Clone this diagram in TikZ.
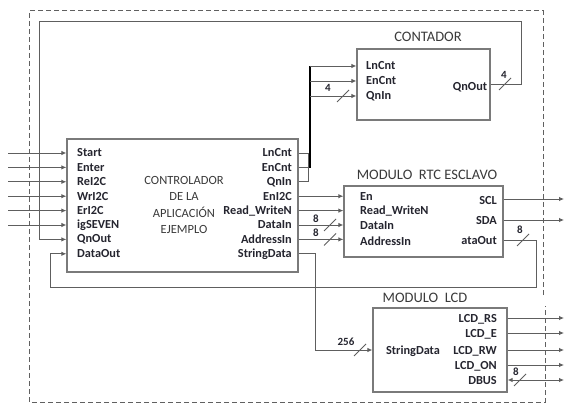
\documentclass[tikz,border=0pt]{standalone}
\usepackage{fontspec}
\setmainfont{Carlito}
\usetikzlibrary{arrows.meta}
\definecolor{boxgray}{HTML}{7A7A7A}
\definecolor{wiregray}{HTML}{5E5E5E}
\definecolor{txt}{HTML}{25252F}
\definecolor{ttl}{HTML}{3A3A3A}
\tikzset{
  blk/.style={draw=boxgray,line width=1.3pt,fill=white,inner sep=0pt},
  pinlbl/.style={font=\fontsize{12.3}{13}\selectfont\bfseries,text=txt,inner sep=0pt},
  ttlbl/.style={font=\fontsize{14.5}{16}\selectfont,text=ttl,inner sep=0pt},
  ctrtxt/.style={font=\fontsize{12.5}{15}\selectfont,text=ttl,inner sep=0pt,align=center},
  wire/.style={draw=wiregray,line width=0.9pt},
  arr/.style={wire,-{Latex[length=5pt,width=4.5pt]}},
  barr/.style={wire,{Latex[length=5pt,width=4.5pt]}-{Latex[length=5pt,width=4.5pt]}},
  bus/.style={draw=black,line width=2pt},
  slash/.style={draw=wiregray,line width=0.9pt},
  numlbl/.style={font=\fontsize{11}{12}\selectfont\bfseries,text=txt,inner sep=0pt},
  outer/.style={draw=gray!75!black,line width=1pt,dash pattern=on 5pt off 3pt}
}
\begin{document}
\begin{tikzpicture}[x=1pt,y=-1pt]
\useasboundingbox (0,0) rectangle (564,403);
% outer dashed boundary
\draw[outer] (543,295) -- (543,11) -- (29,11) -- (29,402) -- (545,402) -- (545,306);

% boxes
\node[blk,minimum width=231pt,minimum height=133pt] (ctrl) at (182.5,205.5) {};
\node[blk,minimum width=133pt,minimum height=71pt] (cnt) at (423.5,84.5) {};
\node[blk,minimum width=159pt,minimum height=71pt] (rtc) at (423.5,221.5) {};
\node[blk,minimum width=134pt,minimum height=84pt] (lcd) at (440,350) {};

% titles
\node[ttlbl] (tcnt) at (428,37) {CONTADOR};
\node[ttlbl] (trtc) at (427,175) {MODULO\ \ RTC ESCLAVO};
\node[ttlbl] (tlcd) at (425,298) {MODULO\ \ LCD};
\node[ctrtxt] (ctxt) at (184,205) {CONTROLADOR\\[1.2pt]DE LA\\[1.2pt]APLICACIÓN\\[1.2pt]EJEMPLO};

% controller left pins
\foreach \n/\t/\y in {cs/Start/153,ce/Enter/167.4,cr/ReI2C/181.8,cw/WrI2C/196.2,cer/ErI2C/210.6,cig/igSEVEN/225,cq/QnOut/239.4,cd/DataOut/253.8}{
  \node[pinlbl,anchor=west] (\n) at (77,\y) {\t};
  \coordinate (\n-p) at (ctrl.west |- 0,\y);
}
% controller right pins
\foreach \n/\t/\y in {ol/LnCnt/153,oe/EnCnt/167.4,oq/QnIn/181.8,oi/EnI2C/196.2,orw/Read\_WriteN/210.6,odi/DataIn/225,oa/AddressIn/239.4,osd/StringData/253.8}{
  \node[pinlbl,anchor=east] (\n) at (292,\y) {\t};
  \coordinate (\n-p) at (ctrl.east |- 0,\y);
}
% external inputs
\foreach \n in {cs,ce,cr,cw,cer,cig}{
  \coordinate (\n-src) at (8,0 |- \n-p);
  \draw[arr] (\n-src) -- (\n-p);
}

% CONTADOR pins
\node[pinlbl,anchor=west] (kl) at (366,66) {LnCnt};
\node[pinlbl,anchor=west] (ke) at (366,81) {EnCnt};
\node[pinlbl,anchor=west] (kq) at (366,96) {QnIn};
\node[pinlbl] (ko) at (470,87) {QnOut};
\coordinate (kl-p) at (cnt.west |- 0,66);
\coordinate (ke-p) at (cnt.west |- 0,81);
\coordinate (kq-p) at (cnt.west |- 0,96);
\coordinate (ko-p) at (cnt.east |- 0,84);

% bus from controller to contador
\coordinate (b1) at (308,153);
\coordinate (b2) at (308,167.4);
\coordinate (b3) at (308,181.8);
\draw[wire] (ol-p) -- (b1);
\draw[wire] (oe-p) -- (b2);
\draw[wire] (oq-p) -- (b3);
\draw[wire] (b1) -- (b3);
\coordinate (bt) at (310,66);
\coordinate (bb) at (310,168);
\draw[bus] (bt) -- (bb);
\coordinate (bk1) at (310,66);
\coordinate (bk2) at (310,81);
\coordinate (bk3) at (310,96);
\draw[arr] (bk1) -- (kl-p);
\draw[arr] (bk2) -- (ke-p);
\draw[arr] (bk3) -- (kq-p);
\draw[slash] (337,102) -- (349,90);
\node[numlbl] (n4a) at (328,88) {4};

% QnOut feedback
\coordinate (f1) at (521,84);
\coordinate (f2) at (521,21);
\coordinate (f3) at (39,21);
\coordinate (f4) at (39,239.4);
\draw[arr] (ko-p) -- (f1) -- (f2) -- (f3) -- (f4) -- (cq-p);
\draw[slash] (499,90) -- (511,78);
\node[numlbl] (n4b) at (504,75) {4};

% RTC pins
\node[pinlbl,anchor=west] (re) at (360,197) {En};
\node[pinlbl,anchor=west] (rrw) at (360,211.5) {Read\_WriteN};
\node[pinlbl,anchor=west] (rdi) at (360,226) {DataIn};
\node[pinlbl,anchor=west] (ra) at (360,241) {AddressIn};
\node[pinlbl,anchor=east] (rscl) at (497,201) {SCL};
\node[pinlbl,anchor=east] (rsda) at (497,221) {SDA};
\node[pinlbl,anchor=east] (rdo) at (497,241) {ataOut};
\coordinate (re-p) at (rtc.west |- 0,196.2);
\coordinate (rrw-p) at (rtc.west |- 0,210.6);
\coordinate (rdi-p) at (rtc.west |- 0,225);
\coordinate (ra-p) at (rtc.west |- 0,239.4);
\draw[arr] (oi-p) -- (re-p);
\draw[arr] (orw-p) -- (rrw-p);
\draw[arr] (odi-p) -- (rdi-p);
\draw[arr] (oa-p) -- (ra-p);
\draw[slash] (324,231) -- (336,219);
\draw[slash] (324,245.5) -- (336,233.5);
\node[numlbl] (n8a) at (316,219) {8};
\node[numlbl] (n8b) at (316,233) {8};

% SCL / SDA outputs
\coordinate (scl-p) at (rtc.east |- 0,199);
\coordinate (sda-p) at (rtc.east |- 0,220);
\coordinate (scl-o) at (564,199);
\coordinate (sda-o) at (564,220);
\draw[arr] (scl-p) -- (scl-o);
\draw[arr] (sda-p) -- (sda-o);

% DataOut feedback
\coordinate (rdo-p) at (rtc.east |- 0,240);
\coordinate (g1) at (536,240);
\coordinate (g2) at (536,287);
\coordinate (g3) at (50,287);
\coordinate (g4) at (50,253.8);
\draw[arr] (rdo-p) -- (g1) -- (g2) -- (g3) -- (g4) -- (cd-p);
\draw[slash] (517,246) -- (529,234);
\node[numlbl] (n8c) at (520,230) {8};

% StringData to LCD
\coordinate (h1) at (315,253.8);
\coordinate (h2) at (315,350);
\coordinate (lsd-p) at (lcd.west |- 0,350);
\draw[arr] (osd-p) -- (h1) -- (h2) -- (lsd-p);
\draw[slash] (354,356) -- (366,344);
\node[numlbl] (n256) at (346,342) {256};

% LCD pins
\node[pinlbl] (lsd) at (413,351) {StringData};
\foreach \n/\t/\y in {lrs/LCD\_RS/318,le/LCD\_E/333,lrw/LCD\_RW/350,lon/LCD\_ON/365,ldb/DBUS/380}{
  \node[pinlbl,anchor=east] (\n) at (497,\y+1) {\t};
  \coordinate (\n-p) at (lcd.east |- 0,\y);
  \coordinate (\n-o) at (564,\y);
}
\draw[arr] (lrs-p) -- (lrs-o);
\draw[arr] (le-p) -- (le-o);
\draw[arr] (lrw-p) -- (lrw-o);
\draw[arr] (lon-p) -- (lon-o);
\draw[barr] (ldb-p) -- (ldb-o);
\draw[slash] (514,386) -- (526,374);
\node[numlbl] (n8d) at (516,372) {8};
\end{tikzpicture}
\end{document}
